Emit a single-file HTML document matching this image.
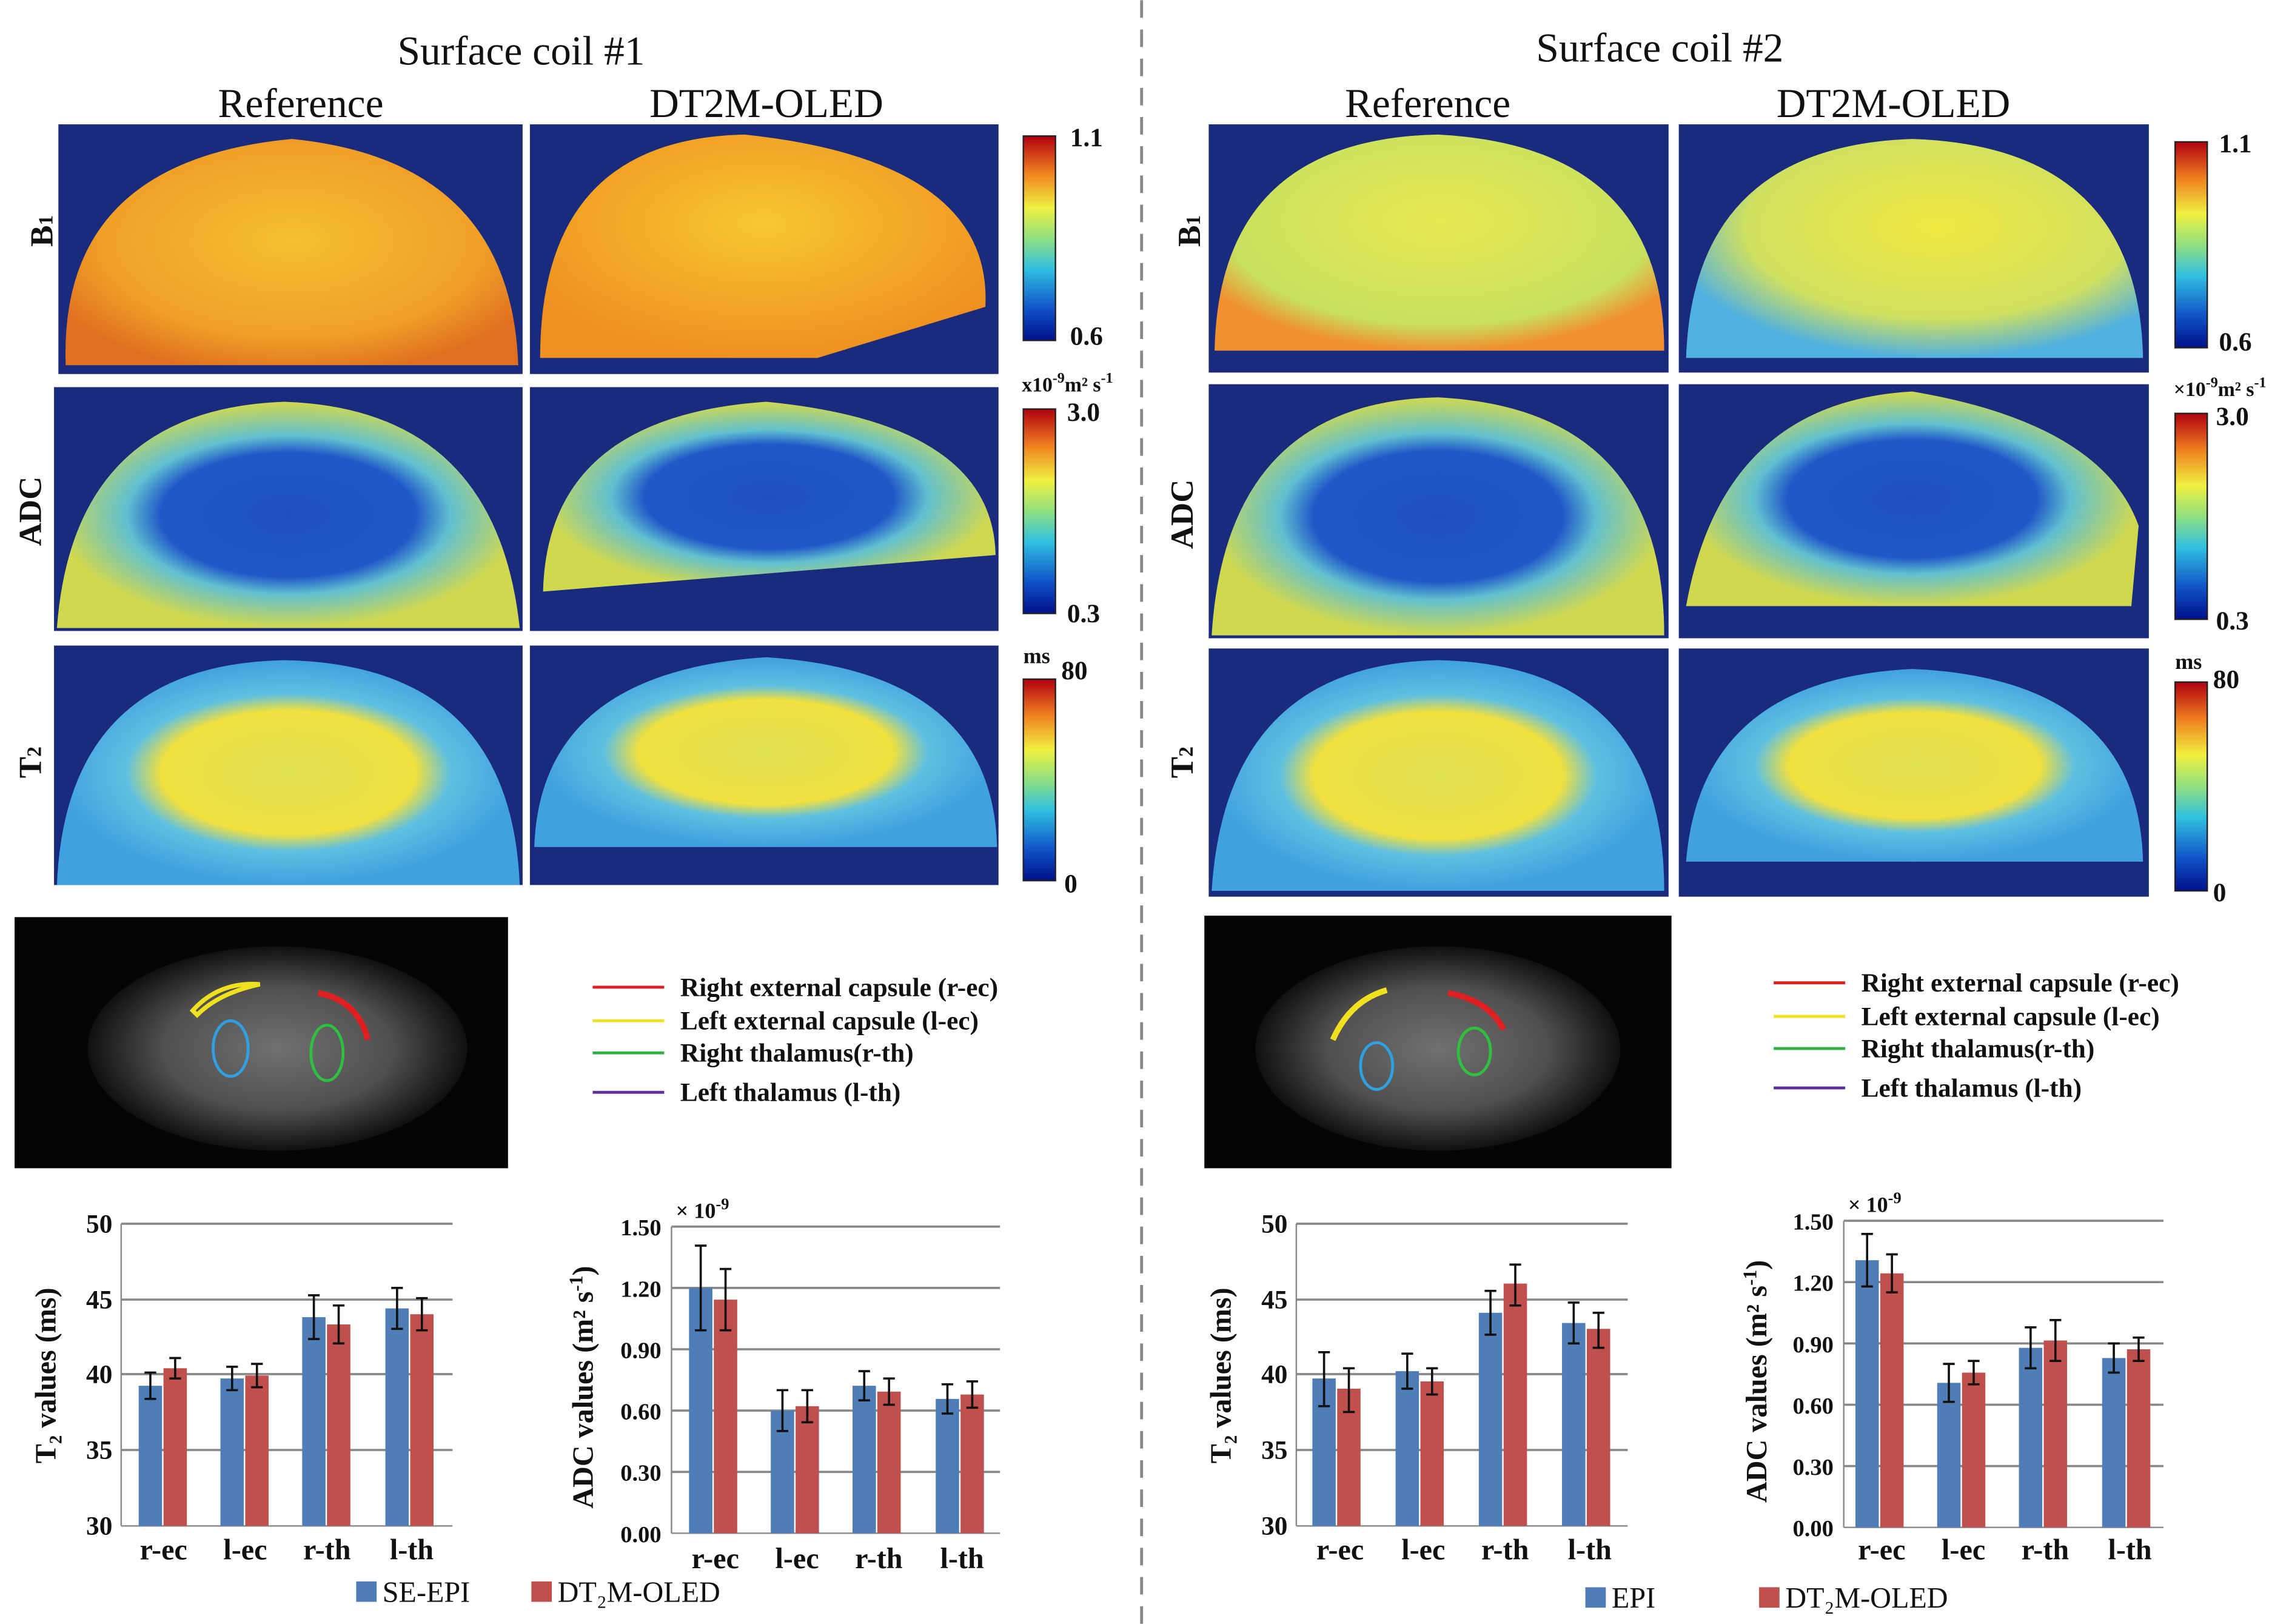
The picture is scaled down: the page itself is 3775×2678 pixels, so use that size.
<!DOCTYPE html>
<html><head><meta charset="utf-8"><style>
html,body{margin:0;padding:0;background:#fff}
svg{display:block}
text{font-family:"Liberation Serif",serif}
</style></head><body>
<svg width="3775" height="2678" viewBox="0 0 1568 1112" xmlns="http://www.w3.org/2000/svg">
<defs>
<linearGradient id="jet" x1="0" y1="1" x2="0" y2="0">
<stop offset="0" stop-color="#00108a"/><stop offset="0.15" stop-color="#1050c8"/><stop offset="0.35" stop-color="#30c0e0"/><stop offset="0.5" stop-color="#90e080"/><stop offset="0.65" stop-color="#f0f040"/><stop offset="0.82" stop-color="#f08020"/><stop offset="1" stop-color="#b00010"/>
</linearGradient>
<radialGradient id="b1r" cx="0.5" cy="0.45" r="0.6"><stop offset="0" stop-color="#f4c030"/><stop offset="0.7" stop-color="#f0a028"/><stop offset="1" stop-color="#e07020"/></radialGradient>
<radialGradient id="b1o" cx="0.5" cy="0.4" r="0.6"><stop offset="0" stop-color="#f6c830"/><stop offset="1" stop-color="#f09020"/></radialGradient>
<radialGradient id="b1r2" cx="0.5" cy="0.4" r="0.6"><stop offset="0" stop-color="#e8e850"/><stop offset="0.8" stop-color="#c8e060"/><stop offset="1" stop-color="#f09030"/></radialGradient>
<radialGradient id="b1o2" cx="0.55" cy="0.4" r="0.6"><stop offset="0" stop-color="#f0e840"/><stop offset="0.7" stop-color="#d0e060"/><stop offset="1" stop-color="#50b0e0"/></radialGradient>
<radialGradient id="adc" cx="0.5" cy="0.5" r="0.5"><stop offset="0" stop-color="#2050c0"/><stop offset="0.55" stop-color="#2058c8"/><stop offset="0.7" stop-color="#60c0d0"/><stop offset="1" stop-color="#d0d850"/></radialGradient>
<radialGradient id="t2" cx="0.5" cy="0.5" r="0.5"><stop offset="0" stop-color="#e0e050"/><stop offset="0.55" stop-color="#f0e040"/><stop offset="0.7" stop-color="#60c0e0"/><stop offset="1" stop-color="#40a0e0"/></radialGradient>
<radialGradient id="gray" cx="0.5" cy="0.5" r="0.5"><stop offset="0" stop-color="#707070"/><stop offset="0.6" stop-color="#505050"/><stop offset="1" stop-color="#101010"/></radialGradient>
</defs>

<g font-size="28" text-anchor="middle" fill="#111">
<text x="357" y="44">Surface coil #1</text>
<text x="206" y="80">Reference</text><text x="525" y="80">DT2M-OLED</text>
<text x="1137" y="42">Surface coil #2</text>
<text x="978" y="80">Reference</text><text x="1297" y="80">DT2M-OLED</text>
</g>
<line x1="782" y1="0" x2="782" y2="1112" stroke="#888" stroke-width="2" stroke-dasharray="12,8"/>

<!-- maps left -->
<g>
<rect x="40" y="85" width="318" height="171" fill="#1a2a7c"/><path d="M45 250 Q40 110 200 95 Q350 110 355 250 Z" fill="url(#b1r)"/>
<rect x="363" y="85" width="321" height="171" fill="#1a2a7c"/><path d="M370 245 Q370 95 510 92 Q680 110 675 210 L560 245 Z" fill="url(#b1o)"/>
<rect x="37" y="265" width="321" height="167" fill="#1a2a7c"/><path d="M39 430 Q50 280 195 275 Q340 280 356 430 Z" fill="url(#adc)"/>
<rect x="363" y="265" width="321" height="167" fill="#1a2a7c"/><path d="M372 405 Q375 285 525 275 Q680 290 682 380 L372 405 Z" fill="url(#adc)"/>
<rect x="37" y="442" width="321" height="164" fill="#1a2a7c"/><path d="M39 606 Q45 455 195 452 Q350 455 356 606 Z" fill="url(#t2)"/>
<rect x="363" y="442" width="321" height="164" fill="#1a2a7c"/><path d="M366 580 Q370 460 525 450 Q680 460 683 580 Z" fill="url(#t2)"/>
</g>
<!-- maps right -->
<g>
<rect x="828" y="85" width="315" height="170" fill="#1a2a7c"/><path d="M832 240 Q835 95 985 92 Q1140 100 1140 240 Z" fill="url(#b1r2)"/>
<rect x="1150" y="85" width="322" height="170" fill="#1a2a7c"/><path d="M1155 245 Q1160 100 1310 95 Q1465 100 1468 245 Z" fill="url(#b1o2)"/>
<rect x="828" y="263" width="315" height="174" fill="#1a2a7c"/><path d="M830 435 Q840 275 985 272 Q1140 280 1140 435 Z" fill="url(#adc)"/>
<rect x="1150" y="263" width="322" height="174" fill="#1a2a7c"/><path d="M1155 415 Q1180 275 1310 268 Q1440 290 1465 360 L1460 415 Z" fill="url(#adc)"/>
<rect x="828" y="444" width="315" height="170" fill="#1a2a7c"/><path d="M830 610 Q840 455 985 452 Q1140 455 1140 610 Z" fill="url(#t2)"/>
<rect x="1150" y="444" width="322" height="170" fill="#1a2a7c"/><path d="M1155 590 Q1165 465 1310 458 Q1465 465 1468 590 Z" fill="url(#t2)"/>
</g>

<!-- row labels -->
<g font-size="22" font-weight="bold" fill="#111" text-anchor="middle">
<text transform="translate(36,158) rotate(-90)">B<tspan font-size="14">1</tspan></text>
<text transform="translate(28,350) rotate(-90)">ADC</text>
<text transform="translate(28,522) rotate(-90)">T<tspan font-size="14">2</tspan></text>
<text transform="translate(822,158) rotate(-90)">B<tspan font-size="14">1</tspan></text>
<text transform="translate(817,352) rotate(-90)">ADC</text>
<text transform="translate(817,522) rotate(-90)">T<tspan font-size="14">2</tspan></text>
</g>

<!-- colorbars -->
<g font-size="18" font-weight="bold" fill="#111">
<rect x="701" y="93" width="22" height="140" fill="url(#jet)" stroke="#222"/>
<text x="733" y="100">1.1</text><text x="733" y="236">0.6</text>
<rect x="701" y="280" width="22" height="140" fill="url(#jet)" stroke="#222"/>
<text x="700" y="268" font-size="14">x10<tspan dy="-6" font-size="10">-9</tspan><tspan dy="6">m² s</tspan><tspan dy="-6" font-size="10">-1</tspan></text>
<text x="731" y="288">3.0</text><text x="731" y="426">0.3</text>
<rect x="701" y="465" width="22" height="138" fill="url(#jet)" stroke="#222"/>
<text x="701" y="454" font-size="15">ms</text><text x="727" y="465">80</text><text x="729" y="611">0</text>

<rect x="1490" y="97" width="22" height="141" fill="url(#jet)" stroke="#222"/>
<text x="1520" y="104">1.1</text><text x="1520" y="240">0.6</text>
<rect x="1490" y="283" width="22" height="141" fill="url(#jet)" stroke="#222"/>
<text x="1489" y="271" font-size="14">×10<tspan dy="-6" font-size="10">-9</tspan><tspan dy="6">m² s</tspan><tspan dy="-6" font-size="10">-1</tspan></text>
<text x="1518" y="291">3.0</text><text x="1518" y="431">0.3</text>
<rect x="1490" y="467" width="22" height="143" fill="url(#jet)" stroke="#222"/>
<text x="1490" y="458" font-size="15">ms</text><text x="1516" y="471">80</text><text x="1516" y="617">0</text>
</g>

<!-- grayscale images -->
<rect x="10" y="628" width="338" height="172" fill="#050505"/>
<ellipse cx="190" cy="718" rx="130" ry="70" fill="url(#gray)"/>
<path d="M132 692 Q150 672 178 674 Q150 680 135 695 Z" fill="none" stroke="#f0e020" stroke-width="3"/>
<path d="M218 680 Q245 685 252 712" fill="none" stroke="#e02020" stroke-width="4"/>
<ellipse cx="158" cy="718" rx="12" ry="19" fill="none" stroke="#30a0e0" stroke-width="2"/>
<ellipse cx="224" cy="721" rx="11" ry="19" fill="none" stroke="#30c040" stroke-width="2"/>
<rect x="825" y="627" width="320" height="173" fill="#050505"/>
<ellipse cx="985" cy="718" rx="125" ry="70" fill="url(#gray)"/>
<path d="M913 712 Q925 685 950 678" fill="none" stroke="#f0e020" stroke-width="4"/>
<path d="M992 680 Q1020 685 1030 705" fill="none" stroke="#e02020" stroke-width="4"/>
<ellipse cx="943" cy="730" rx="11" ry="16" fill="none" stroke="#30a0e0" stroke-width="2"/>
<ellipse cx="1010" cy="720" rx="11" ry="16" fill="none" stroke="#30c040" stroke-width="2"/>

<!-- ROI legends -->
<g font-size="18" font-weight="bold" fill="#111" stroke-width="2">
<line x1="406" y1="676" x2="455" y2="676" stroke="#e02020"/><text x="466" y="682">Right external capsule (r-ec)</text>
<line x1="406" y1="699" x2="455" y2="699" stroke="#f0e020"/><text x="466" y="705">Left external capsule (l-ec)</text>
<line x1="406" y1="721" x2="455" y2="721" stroke="#30b040"/><text x="466" y="727">Right thalamus(r-th)</text>
<line x1="406" y1="748" x2="455" y2="748" stroke="#6030a0"/><text x="466" y="754">Left thalamus (l-th)</text>
<line x1="1215" y1="673" x2="1264" y2="673" stroke="#e02020"/><text x="1275" y="679">Right external capsule (r-ec)</text>
<line x1="1215" y1="696" x2="1264" y2="696" stroke="#f0e020"/><text x="1275" y="702">Left external capsule (l-ec)</text>
<line x1="1215" y1="718" x2="1264" y2="718" stroke="#30b040"/><text x="1275" y="724">Right thalamus(r-th)</text>
<line x1="1215" y1="745" x2="1264" y2="745" stroke="#6030a0"/><text x="1275" y="751">Left thalamus (l-th)</text>
</g>

<!-- T2 chart left -->
<g font-size="18" font-weight="bold" fill="#111">
<g stroke="#888" stroke-width="1.5"><line x1="83" y1="838" x2="310" y2="838"/><line x1="83" y1="890" x2="310" y2="890"/><line x1="83" y1="941" x2="310" y2="941"/><line x1="83" y1="993" x2="310" y2="993"/></g>
<line x1="83" y1="838" x2="83" y2="1045" stroke="#888"/><line x1="83" y1="1045" x2="310" y2="1045" stroke="#888"/>
<g text-anchor="end"><text x="77" y="844">50</text><text x="77" y="896">45</text><text x="77" y="947">40</text><text x="77" y="999">35</text><text x="77" y="1051">30</text></g>
<text transform="translate(38,942) rotate(-90)" text-anchor="middle" font-size="20">T₂ values (ms)</text>
<g fill="#4f7db8"><rect x="95" y="949" width="16" height="96"/><rect x="151" y="944" width="16" height="101"/><rect x="207" y="902" width="16" height="143"/><rect x="264" y="896" width="16" height="149"/></g>
<g fill="#c0504d"><rect x="112" y="937" width="16" height="108"/><rect x="168" y="942" width="16" height="103"/><rect x="224" y="907" width="16" height="138"/><rect x="281" y="900" width="16" height="145"/></g>
<g stroke="#111" stroke-width="1.5"><path d="M103 940V958M99 940h8M99 958h8M120 930V944M116 930h8M116 944h8M159 936V952M155 936h8M155 952h8M176 934V950M172 934h8M172 950h8M215 887V917M211 887h8M211 917h8M232 894V920M228 894h8M228 920h8M272 882V910M268 882h8M268 910h8M289 889V911M285 889h8M285 911h8"/></g>
<g text-anchor="middle" font-size="20"><text x="112" y="1068">r-ec</text><text x="168" y="1068">l-ec</text><text x="224" y="1068">r-th</text><text x="282" y="1068">l-th</text></g>

<!-- ADC chart left -->
<g stroke="#888" stroke-width="1.5"><line x1="460" y1="840" x2="685" y2="840"/><line x1="460" y1="882" x2="685" y2="882"/><line x1="460" y1="924" x2="685" y2="924"/><line x1="460" y1="966" x2="685" y2="966"/><line x1="460" y1="1008" x2="685" y2="1008"/></g>
<line x1="460" y1="840" x2="460" y2="1050" stroke="#888"/><line x1="460" y1="1050" x2="685" y2="1050" stroke="#888"/>
<g text-anchor="end" font-size="16"><text x="453" y="846">1.50</text><text x="453" y="888">1.20</text><text x="453" y="930">0.90</text><text x="453" y="972">0.60</text><text x="453" y="1014">0.30</text><text x="453" y="1056">0.00</text></g>
<text x="463" y="834" font-size="15">× 10<tspan dy="-6" font-size="11">-9</tspan></text>
<text transform="translate(406,950) rotate(-90)" text-anchor="middle" font-size="20">ADC values (m² s<tspan dy="-7" font-size="13">-1</tspan><tspan dy="7">)</tspan></text>
<g fill="#4f7db8"><rect x="472" y="882" width="16" height="168"/><rect x="528" y="966" width="16" height="84"/><rect x="584" y="949" width="16" height="101"/><rect x="641" y="958" width="16" height="92"/></g>
<g fill="#c0504d"><rect x="489" y="890" width="16" height="160"/><rect x="545" y="963" width="16" height="87"/><rect x="601" y="953" width="16" height="97"/><rect x="658" y="955" width="16" height="95"/></g>
<g stroke="#111" stroke-width="1.5"><path d="M480 853V911M476 853h8M476 911h8M497 869V911M493 869h8M493 911h8M536 952V980M532 952h8M532 980h8M553 952V974M549 952h8M549 974h8M592 939V959M588 939h8M588 959h8M609 944V962M605 944h8M605 962h8M649 948V968M645 948h8M645 968h8M666 946V964M662 946h8M662 964h8"/></g>
<g text-anchor="middle" font-size="20"><text x="490" y="1074">r-ec</text><text x="546" y="1074">l-ec</text><text x="602" y="1074">r-th</text><text x="659" y="1074">l-th</text></g>
<rect x="244" y="1083" width="14" height="14" fill="#4f7db8"/><text x="262" y="1097" font-weight="normal" font-size="20">SE-EPI</text>
<rect x="364" y="1083" width="14" height="14" fill="#c0504d"/><text x="382" y="1097" font-weight="normal" font-size="20">DT₂M-OLED</text>

<!-- T2 chart right -->
<g stroke="#888" stroke-width="1.5"><line x1="888" y1="838" x2="1115" y2="838"/><line x1="888" y1="890" x2="1115" y2="890"/><line x1="888" y1="941" x2="1115" y2="941"/><line x1="888" y1="993" x2="1115" y2="993"/></g>
<line x1="888" y1="838" x2="888" y2="1045" stroke="#888"/><line x1="888" y1="1045" x2="1115" y2="1045" stroke="#888"/>
<g text-anchor="end"><text x="882" y="844">50</text><text x="882" y="896">45</text><text x="882" y="947">40</text><text x="882" y="999">35</text><text x="882" y="1051">30</text></g>
<text transform="translate(843,942) rotate(-90)" text-anchor="middle" font-size="20">T₂ values (ms)</text>
<g fill="#4f7db8"><rect x="899" y="944" width="16" height="101"/><rect x="956" y="939" width="16" height="106"/><rect x="1013" y="899" width="16" height="146"/><rect x="1070" y="906" width="16" height="139"/></g>
<g fill="#c0504d"><rect x="916" y="951" width="16" height="94"/><rect x="973" y="946" width="16" height="99"/><rect x="1030" y="879" width="16" height="166"/><rect x="1087" y="910" width="16" height="135"/></g>
<g stroke="#111" stroke-width="1.5"><path d="M907 926V963M903 926h8M903 963h8M924 937V967M920 937h8M920 967h8M964 927V951M960 927h8M960 951h8M981 937V955M977 937h8M977 955h8M1021 884V914M1017 884h8M1017 914h8M1038 866V894M1034 866h8M1034 894h8M1078 892V920M1074 892h8M1074 920h8M1095 899V923M1091 899h8M1091 923h8"/></g>
<g text-anchor="middle" font-size="20"><text x="918" y="1068">r-ec</text><text x="975" y="1068">l-ec</text><text x="1031" y="1068">r-th</text><text x="1089" y="1068">l-th</text></g>

<!-- ADC chart right -->
<g stroke="#888" stroke-width="1.5"><line x1="1263" y1="836" x2="1482" y2="836"/><line x1="1263" y1="878" x2="1482" y2="878"/><line x1="1263" y1="920" x2="1482" y2="920"/><line x1="1263" y1="962" x2="1482" y2="962"/><line x1="1263" y1="1004" x2="1482" y2="1004"/></g>
<line x1="1263" y1="836" x2="1263" y2="1046" stroke="#888"/><line x1="1263" y1="1046" x2="1482" y2="1046" stroke="#888"/>
<g text-anchor="end" font-size="16"><text x="1256" y="842">1.50</text><text x="1256" y="884">1.20</text><text x="1256" y="926">0.90</text><text x="1256" y="968">0.60</text><text x="1256" y="1010">0.30</text><text x="1256" y="1052">0.00</text></g>
<text x="1266" y="830" font-size="15">× 10<tspan dy="-6" font-size="11">-9</tspan></text>
<text transform="translate(1210,946) rotate(-90)" text-anchor="middle" font-size="20">ADC values (m² s<tspan dy="-7" font-size="13">-1</tspan><tspan dy="7">)</tspan></text>
<g fill="#4f7db8"><rect x="1271" y="863" width="16" height="183"/><rect x="1327" y="947" width="16" height="99"/><rect x="1383" y="923" width="16" height="123"/><rect x="1440" y="930" width="16" height="116"/></g>
<g fill="#c0504d"><rect x="1288" y="872" width="16" height="174"/><rect x="1344" y="940" width="16" height="106"/><rect x="1400" y="918" width="16" height="128"/><rect x="1457" y="924" width="16" height="122"/></g>
<g stroke="#111" stroke-width="1.5"><path d="M1279 845V881M1275 845h8M1275 881h8M1296 859V885M1292 859h8M1292 885h8M1335 934V960M1331 934h8M1331 960h8M1352 932V948M1348 932h8M1348 948h8M1391 909V937M1387 909h8M1387 937h8M1408 904V932M1404 904h8M1404 932h8M1448 920V940M1444 920h8M1444 940h8M1465 916V932M1461 916h8M1461 932h8"/></g>
<g text-anchor="middle" font-size="20"><text x="1289" y="1068">r-ec</text><text x="1345" y="1068">l-ec</text><text x="1401" y="1068">r-th</text><text x="1459" y="1068">l-th</text></g>
<rect x="1086" y="1087" width="14" height="14" fill="#4f7db8"/><text x="1104" y="1101" font-weight="normal" font-size="20">EPI</text>
<rect x="1205" y="1087" width="14" height="14" fill="#c0504d"/><text x="1223" y="1101" font-weight="normal" font-size="20">DT₂M-OLED</text>
</g>
</svg>
</body></html>
